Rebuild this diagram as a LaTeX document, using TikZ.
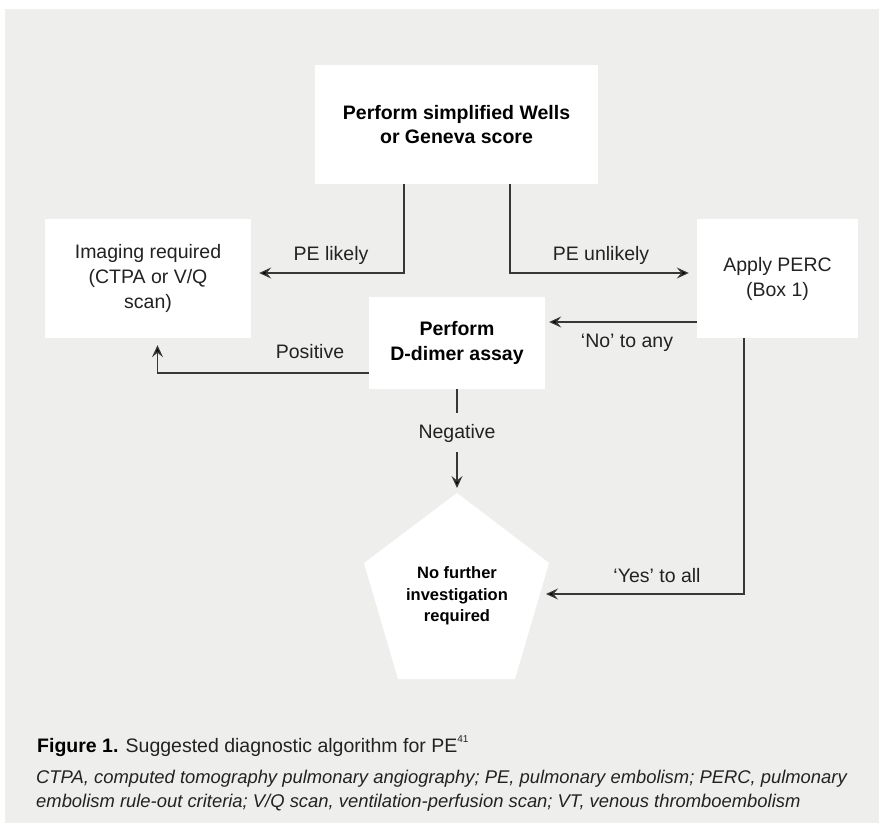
\documentclass[tikz,border=0pt]{standalone}
\usepackage{fontspec}
\setmainfont{Liberation Sans}
\usetikzlibrary{arrows.meta}
\definecolor{bg}{RGB}{238,238,237}
\definecolor{ln}{RGB}{55,55,55}
\definecolor{tx}{RGB}{34,34,34}
\begin{document}
\begin{tikzpicture}[x=1pt,y=-1pt,
  box/.style={fill=white, inner sep=0pt, align=center, text=tx},
  regf/.style={font=\fontsize{19.5}{25}\selectfont},
  boldf/.style={font=\bfseries\fontsize{19.5}{24.5}\selectfont, text=black},
  lbl/.style={font=\fontsize{19.5}{24}\selectfont, text=tx, inner sep=0pt},
  arr/.style={draw=ln, line width=1.2pt, -{Stealth[length=12pt,width=11pt,inset=4.5pt,fill=black]}},
  conn/.style={draw=ln, line width=1.2pt}]
\useasboundingbox (0,0) rectangle (879,828);
\fill[bg] (5,9) rectangle (879,823);

% boxes
\node[box, boldf, minimum width=283pt, minimum height=119pt] (top) at (456.5,124.5) {Perform simplified Wells\\or Geneva score};
\node[box, regf, minimum width=206pt, minimum height=119pt] (img) at (148,278.5) {Imaging required\\(CTPA or V/Q\\scan)};
\node[box, regf, minimum width=161pt, minimum height=119pt] (perc) at (777.5,278.5) {Apply PERC\\(Box 1)};
\node[box, boldf, minimum width=176pt, minimum height=92pt] (dd) at (457,343) {Perform\\D-dimer assay};

% pentagon
\fill[white] (457,493) coordinate (ptop) -- (549,563) -- (515,679) -- (398,679) -- (364,563) -- cycle;
\node[inner sep=0pt, align=center, font=\bfseries\fontsize{16.5}{21.5}\selectfont, text=black] (pent) at (457,596) {No further\\investigation\\required};
\coordinate (pright) at (540,594);

% labels
\node[lbl] (l1) at (331,255) {PE likely};
\node[lbl] (l2) at (601,255) {PE unlikely};
\node[lbl] (l3) at (627,343) {‘No’ to any};
\node[lbl] (l4) at (310,352) {Positive};
\node[lbl] (l5) at (457,433) {Negative};
\node[lbl] (l6) at (657,576) {‘Yes’ to all};

% connectors
\draw[arr] ([xshift=-52.5pt]top.south) |- ([xshift=8pt,yshift=5.5pt]img.east);
\draw[arr] ([xshift=53.5pt]top.south) |- ([xshift=-8pt,yshift=5.5pt]perc.west);
\draw[arr, shorten >=4pt] ([yshift=-43.5pt]perc.west) -- ([yshift=-43.5pt]perc.west -| dd.east);
\draw[arr, shorten >=7pt] ([yshift=-30pt]dd.west) -| ([xshift=9.5pt]img.south);
\draw[conn] (dd.south) -- ++(0,24);
\draw[arr, shorten >=5pt] ([yshift=-19pt]l5.center) -- (ptop);
\draw[arr, shorten >=6pt] ([xshift=-33.5pt]perc.south) |- (pright);

% caption
\node[anchor=base west, inner sep=0pt, font=\fontsize{19.5}{24}\selectfont, text=tx] (cap) at (37,752) {\textbf{\color{black}Figure 1.} Suggested diagnostic algorithm for PE\raisebox{0.5em}{\fontsize{10}{10}\selectfont 41}};
\node[anchor=base west, inner sep=0pt, font=\itshape\fontsize{18.4}{24}\selectfont, text=tx] (n1) at (36,783) {CTPA, computed tomography pulmonary angiography; PE, pulmonary embolism; PERC, pulmonary};
\node[anchor=base west, inner sep=0pt, font=\itshape\fontsize{18.4}{24}\selectfont, text=tx] (n2) at (36,807) {embolism rule-out criteria; V/Q scan, ventilation-perfusion scan; VT, venous thromboembolism};
\end{tikzpicture}
\end{document}
